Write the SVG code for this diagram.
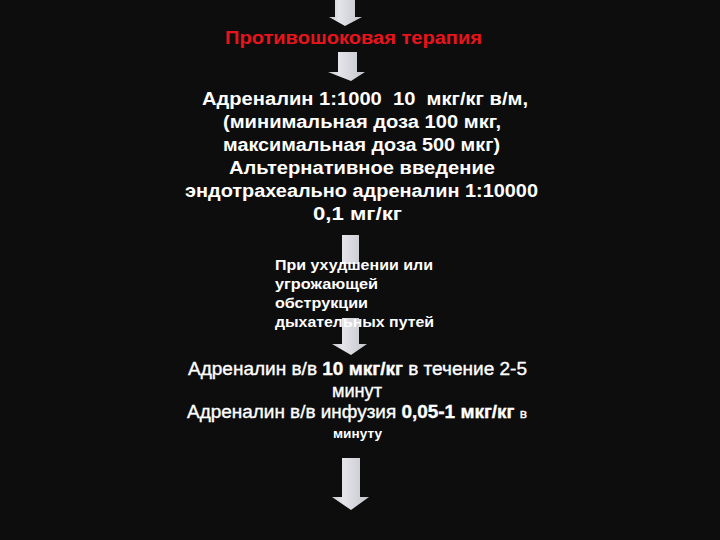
<svg xmlns="http://www.w3.org/2000/svg" width="720" height="540" viewBox="0 0 720 540">
<defs>
<linearGradient id="ag" x1="0" y1="0" x2="1" y2="0">
<stop offset="0" stop-color="#c8c8d0"/>
<stop offset="0.3" stop-color="#e4e4ea"/>
<stop offset="1" stop-color="#c4c4cc"/>
</linearGradient>
<style>
.arrow{fill:url(#ag)}
.t{font-family:"Liberation Sans",Arial,sans-serif;fill:#ffffff;text-anchor:middle}
.b{font-weight:bold}
.m{stroke:#ffffff;stroke-width:0.35}
.red{fill:#e8141c;font-weight:bold}
.l{text-anchor:start}
</style>
</defs>
<rect width="720" height="540" fill="#0d0d0d"/>
<g id="connectors">
<polygon class="arrow" points="335,0 355,0 355,17 362,17 345,26 329,17 335,17"/>
<polygon class="arrow" points="338,52 357,52 357,72 365,72 351,81 328,72 338,72"/>
<polygon class="arrow" points="342,235 359,235 359,344 367,344 351,355 332,344 342,344"/>
<polygon class="arrow" points="342,458 360,458 360,497 369,497 351,510 332,497 342,497"/>
</g>
<g id="node-title">
<text class="t red" x="353.5" y="44" font-size="18" textLength="257" lengthAdjust="spacingAndGlyphs">Противошоковая терапия</text>
</g>
<g id="node-im">
<text class="t b" font-size="18" x="365" y="105" textLength="326" lengthAdjust="spacingAndGlyphs" xml:space="preserve">Адреналин 1:1000  10  мкг/кг в/м,</text>
<text class="t b" font-size="18" x="362" y="128" textLength="278" lengthAdjust="spacingAndGlyphs">(минимальная доза 100 мкг,</text>
<text class="t b" font-size="18" x="361.5" y="151" textLength="277" lengthAdjust="spacingAndGlyphs">максимальная доза 500 мкг)</text>
<text class="t b" font-size="18" x="362" y="174" textLength="266" lengthAdjust="spacingAndGlyphs">Альтернативное введение</text>
<text class="t b" font-size="18" x="361.5" y="197" textLength="353" lengthAdjust="spacingAndGlyphs">эндотрахеально адреналин 1:10000</text>
<text class="t b" font-size="18" x="357.5" y="220" textLength="89" lengthAdjust="spacingAndGlyphs">0,1 мг/кг</text>
</g>
<g id="node-condition">
<rect x="272" y="264" width="166" height="54" fill="#0d0d0d"/>
<text class="t b l" font-size="14" x="275" y="270" textLength="158" lengthAdjust="spacingAndGlyphs">При ухудшении или</text>
<text class="t b l" font-size="14" x="275" y="289" textLength="103" lengthAdjust="spacingAndGlyphs">угрожающей</text>
<text class="t b l" font-size="14" x="275" y="308" textLength="93" lengthAdjust="spacingAndGlyphs">обструкции</text>
<text class="t b l" font-size="14" x="275" y="327" textLength="159" lengthAdjust="spacingAndGlyphs">дыхательных путей</text>
</g>
<g id="node-iv">
<text class="t m" font-size="18" x="357.5" y="375" textLength="339" lengthAdjust="spacingAndGlyphs">Адреналин в/в <tspan class="b">10 мкг/кг</tspan> в течение 2-5</text>
<text class="t m" font-size="18" x="357" y="397" textLength="50" lengthAdjust="spacingAndGlyphs">минут</text>
<text class="t m" font-size="18" x="357" y="418" textLength="340" lengthAdjust="spacingAndGlyphs">Адреналин в/в инфузия <tspan class="b">0,05-1 мкг/кг</tspan> <tspan font-size="13">в</tspan></text>
<text class="t b" font-size="12" x="357.5" y="438" textLength="49" lengthAdjust="spacingAndGlyphs">минуту</text>
</g>
</svg>
